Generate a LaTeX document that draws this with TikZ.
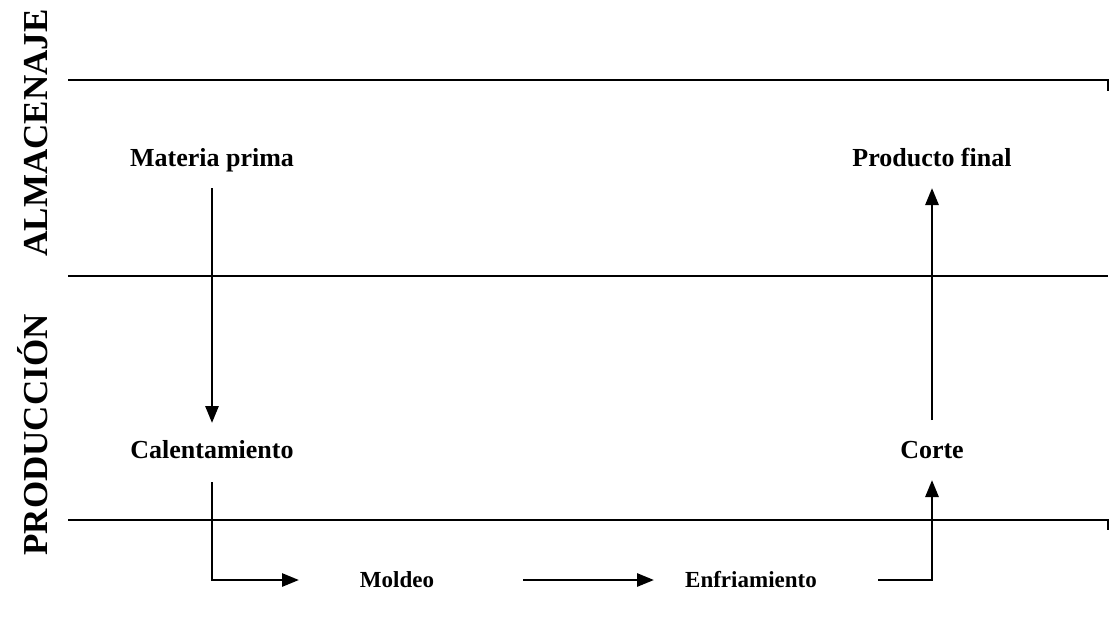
\documentclass[tikz,border=0pt]{standalone}
\usepackage{fontspec}
\setmainfont{Liberation Serif}
\usetikzlibrary{arrows.meta}
\begin{document}
\begin{tikzpicture}[x=1pt,y=-1pt,
  lane/.style={line width=2.8pt},
  flow/.style={line width=2.8pt,-{Triangle[length=17pt,width=13pt]}},
  stage/.style={font=\bfseries\fontsize{26}{30}\selectfont,inner sep=0pt,text height=18pt,text depth=6pt},
  substage/.style={font=\bfseries\fontsize{23}{27}\selectfont,inner sep=0pt,text height=16pt,text depth=5pt},
  lanetitle/.style={font=\bfseries\fontsize{35}{40}\selectfont,rotate=90,inner sep=0pt,text height=23pt,text depth=0pt}]
\useasboundingbox (0,0) rectangle (1110,618);
% swimlane borders
\draw[lane] (68,80) -- (1108,80) -- (1108,91);
\draw[lane] (68,276) -- (1108,276);
\draw[lane] (68,520) -- (1108,520) -- (1108,530);
% lane titles
\node[lanetitle] (alm) at (36,133) {ALMACENAJE};
\node[lanetitle] (prod) at (36,435) {PRODUCCIÓN};
% stages
\node[stage] (mp) at (212,160) {Materia prima};
\node[stage] (pf) at (932,160) {Producto final};
\node[stage] (cal) at (212,452) {Calentamiento};
\node[stage] (cor) at (932,452) {Corte};
\node[substage] (mol) at (397,582) {Moldeo};
\node[substage] (enf) at (751,582) {Enfriamiento};
% flow
\coordinate (c1) at (212,580);
\coordinate (c2) at (932,580);
\draw[flow] (212,188) -- (212,423);
\draw[flow] (212,482) -- (c1) -- (299,580);
\draw[flow] (523,580) -- (654,580);
\draw[flow] (878,580) -- (c2) -- (932,480);
\draw[flow] (932,420) -- (932,188);
\end{tikzpicture}
\end{document}
